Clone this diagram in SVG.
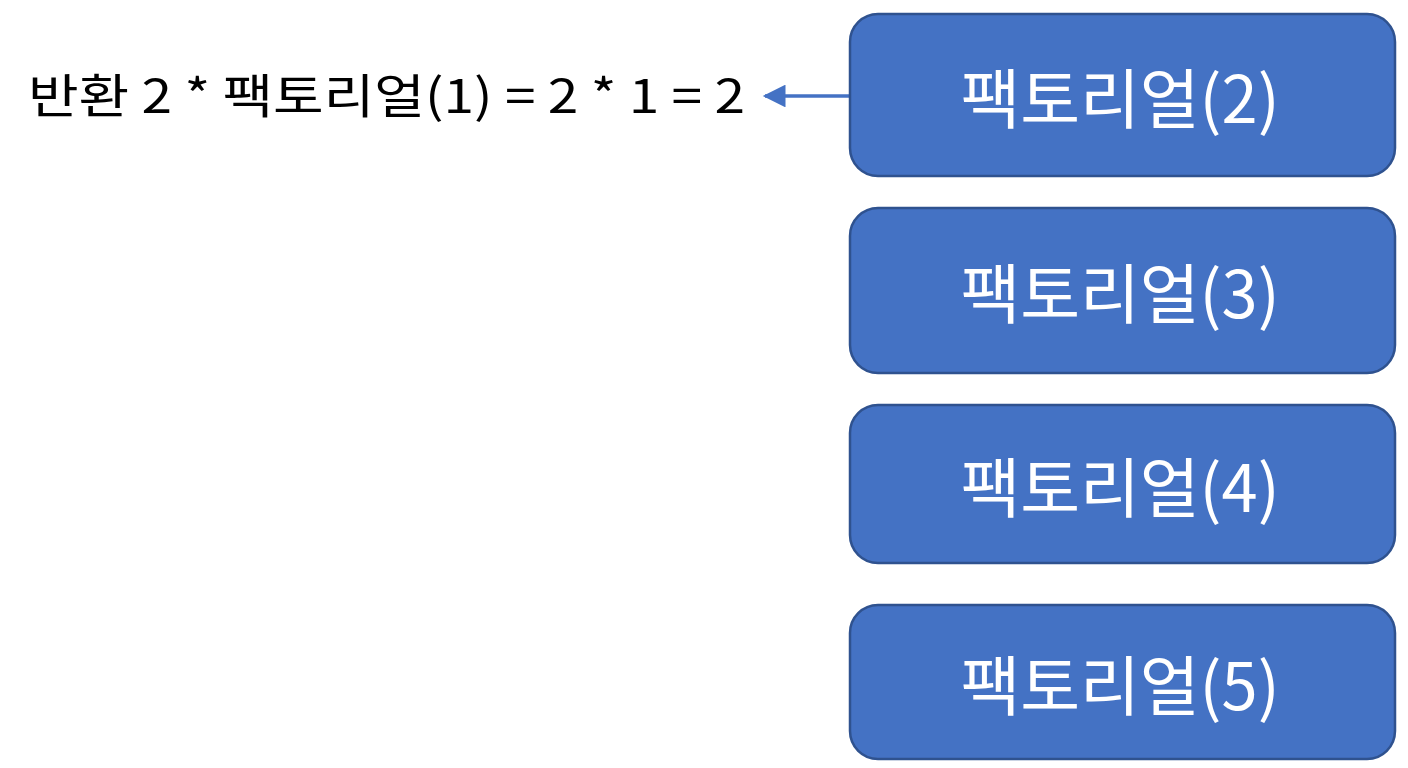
<svg xmlns="http://www.w3.org/2000/svg" width="1408" height="768" viewBox="0 0 1408 768">
<style>
.box{fill:#4472C4;stroke:#2F528F;stroke-width:2.5}
.lbl{font-family:"Noto Sans CJK KR","Noto Sans",sans-serif;font-size:65px;fill:#fff;text-anchor:middle;dominant-baseline:central}
.note{font-family:"Noto Sans CJK KR","Noto Sans",sans-serif;font-size:47px;fill:#000}
.conn{stroke:#4472C4;stroke-width:3.5;fill:none}
</style>
<defs>
<marker id="ah" viewBox="0 0 10 10" refX="9" refY="5" markerWidth="7" markerHeight="6.5" orient="auto-start-reverse" markerUnits="strokeWidth">
<path d="M0,0 L10,5 L0,10 z" fill="#4472C4"/>
</marker>
</defs>
<rect width="1408" height="768" fill="#fff"/>
<g id="connectors">
<line class="conn" x1="850" y1="96" x2="765" y2="96" marker-end="url(#ah)"/>
</g>
<g id="note">
<text class="note" x="28" y="113" textLength="717" lengthAdjust="spacingAndGlyphs">반환 2 * 팩토리얼(1) = 2 * 1 = 2</text>
</g>
<g id="node-f2">
<rect class="box" x="850" y="14" width="545" height="162" rx="28"/>
<text class="lbl" x="1120" y="95">팩토리얼(2)</text>
</g>
<g id="node-f3">
<rect class="box" x="850" y="208" width="545" height="165" rx="28"/>
<text class="lbl" x="1120" y="290">팩토리얼(3)</text>
</g>
<g id="node-f4">
<rect class="box" x="850" y="405" width="545" height="158" rx="28"/>
<text class="lbl" x="1120" y="484">팩토리얼(4)</text>
</g>
<g id="node-f5">
<rect class="box" x="850" y="605" width="545" height="154" rx="28"/>
<text class="lbl" x="1120" y="682">팩토리얼(5)</text>
</g>
</svg>
